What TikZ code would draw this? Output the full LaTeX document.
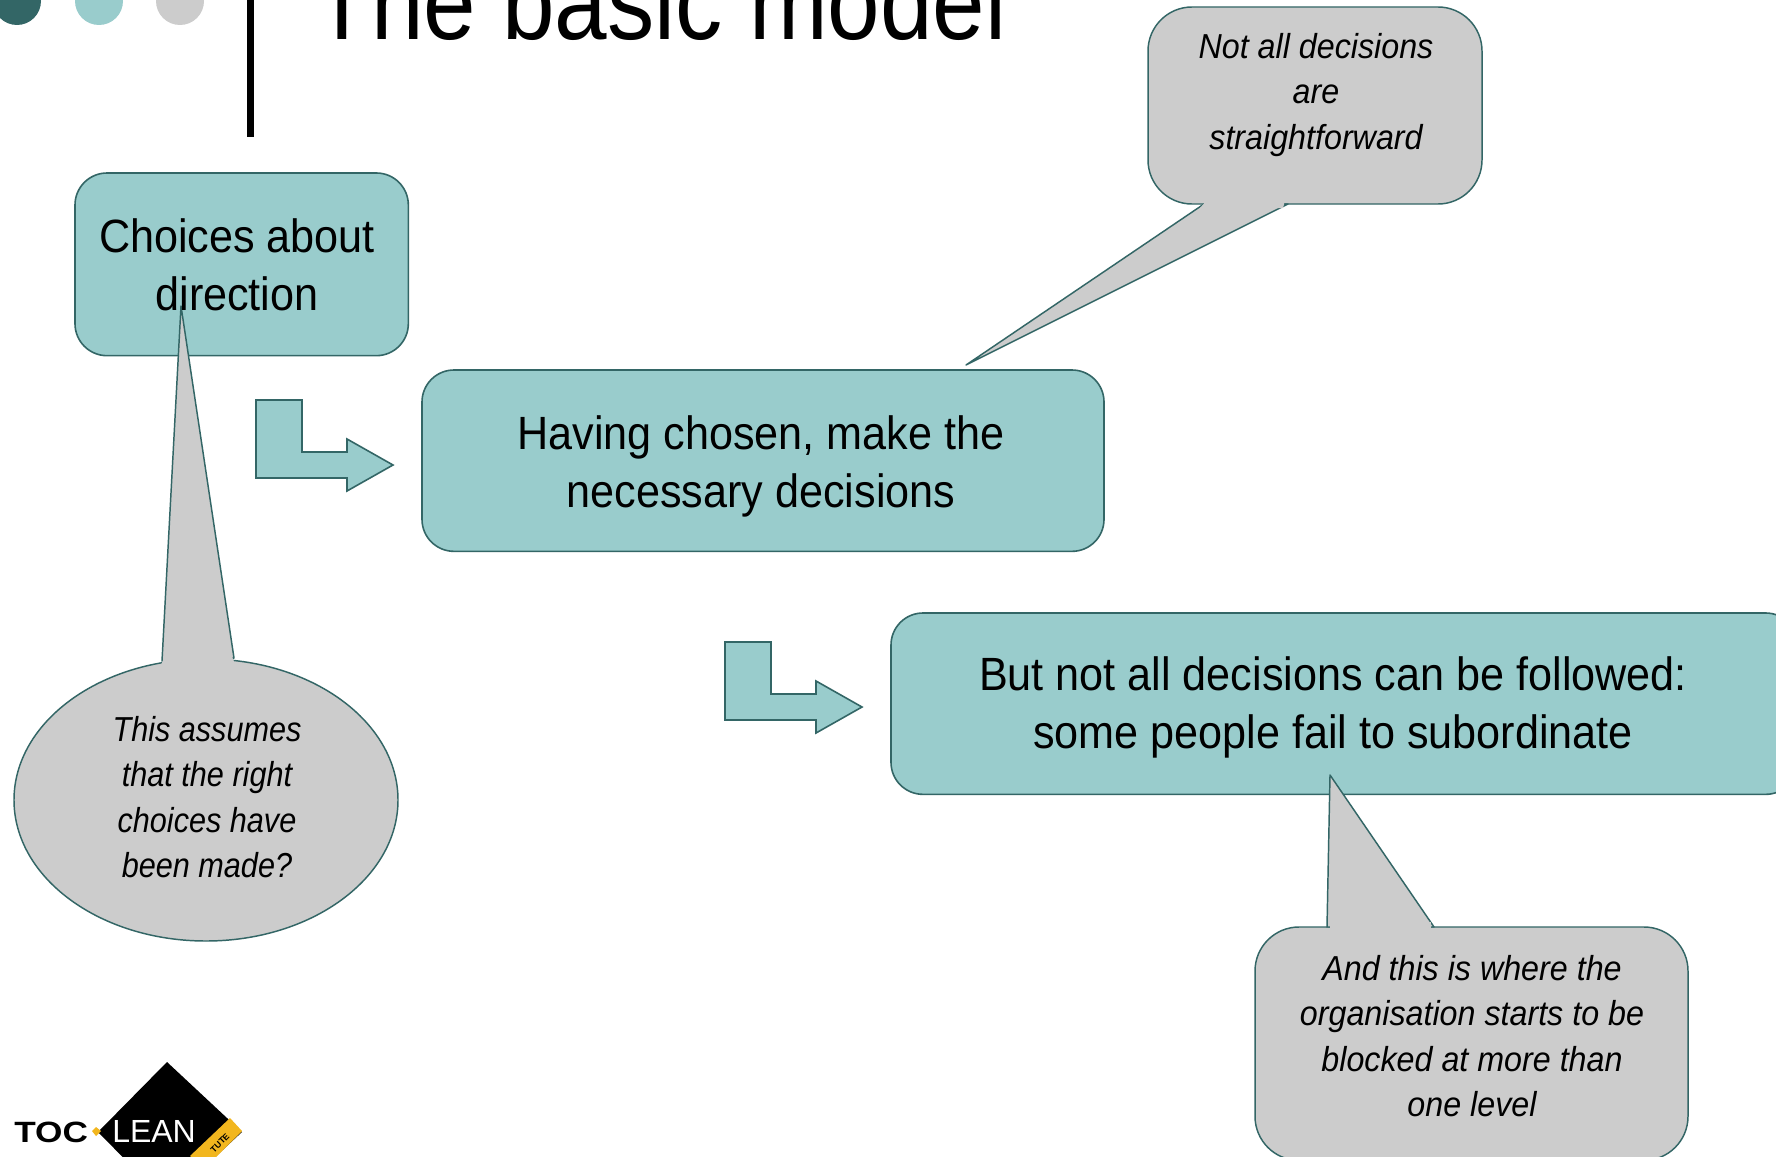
\documentclass[tikz,border=0pt]{standalone}
\usepackage{fontspec}
\setmainfont{Liberation Sans}
\usetikzlibrary{shapes.geometric}
\definecolor{tealfill}{HTML}{99CCCC}
\definecolor{tealline}{HTML}{336666}
\definecolor{greyfill}{HTML}{CCCCCC}
\definecolor{logoyellow}{HTML}{F2B61E}
\tikzset{
  x=0.75pt,y=-0.75pt,
  boxshape/.style={draw=tealline,fill=tealfill,line width=1.2pt,rounded corners=24pt,inner sep=0pt,outer sep=0pt,anchor=north west},
  calloutbody/.style={draw=tealline,fill=greyfill,line width=1.1pt,rounded corners=33pt,inner sep=0pt,outer sep=0pt,anchor=north west},
  callout/.style={draw=tealline,fill=greyfill,line width=1.1pt,line join=round},
  bent/.style={draw=tealline,fill=tealfill,line width=1.2pt},
  boxtext/.style={align=center,inner sep=0pt,font=\fontsize{35}{43.5}\selectfont,xscale=.925,transform shape},
  notetext/.style={align=center,inner sep=0pt,font=\fontsize{26}{34}\selectfont\itshape,xscale=.93,transform shape},
}
\begin{document}
\begin{tikzpicture}
\useasboundingbox (0,0) rectangle (1776,1156);
\clip (0,0) rectangle (1776,1156);
\fill[white] (0,0) rectangle (1776,1156);
% decoration
\fill[tealline] (17,1) circle[radius=18pt];
\fill[tealfill] (99,1) circle[radius=18pt];
\fill[greyfill] (180,1) circle[radius=18pt];
\fill[black] (246.5,0) rectangle (254,137);
\node[anchor=base,inner sep=0pt,font=\fontsize{80}{80}\selectfont,xscale=.885,transform shape] (title) at (660,40) {The basic model};
% callout bodies
\node[calloutbody,minimum width=250.5pt,minimum height=147.75pt] (c1) at (1148,7) {};
\node[callout,ellipse,inner sep=0pt,outer sep=0pt,minimum width=288pt,minimum height=211.5pt] (c2) at (206,800) {};
% main boxes
\node[boxshape,minimum width=250pt,minimum height=137pt] (b1) at (75,173) {};
\node[boxshape,minimum width=511.5pt,minimum height=136pt] (b2) at (422,370) {};
\node[boxshape,minimum width=680pt,minimum height=136pt] (b3) at (891,613) {};
\node[calloutbody,minimum width=324.75pt,minimum height=175pt] (c3) at (1255,927) {};
% tails, drawn over the boxes, with the join to the body opened
\coordinate (tip1) at (966,365);
\coordinate (tip2) at (181,306);
\coordinate (tip3) at (1330,775);
\draw[callout] (tip1) -- (1288,204) -- (1204,204) -- cycle;
\fill[greyfill] (1207,200) -- (1285,200) -- (1283,208) -- (1200,208) -- cycle;
\draw[callout] (tip2) -- (234,658) -- (162,661) -- cycle;
\fill[greyfill] (165,656) -- (231,654) -- (235,664) -- (160,667) -- cycle;
\draw[callout] (tip3) -- (1434,927) -- (1327,927) -- cycle;
\fill[greyfill] (1329.5,922) -- (1431,922) -- (1431,931) -- (1329.5,931) -- cycle;
% bent arrows
\draw[bent] (256,400) -- (302,400) -- (302,452) -- (347,452) -- (347,439) -- (393,465) -- (347,491) -- (347,478) -- (256,478) -- cycle;
\draw[bent] (725,642) -- (771,642) -- (771,694) -- (816,694) -- (816,681) -- (862,707) -- (816,733) -- (816,720) -- (725,720) -- cycle;
% texts
\node[boxtext] (t1) at (237,265) {Choices about\\direction};
\node[boxtext] (t2) at (761,466) {Having chosen, make the\\necessary decisions};
\node[boxtext] (t3) at (1333,707) {But not all decisions can be followed:\\some people fail to subordinate};
\node[notetext] (n1) at (1316,95) {Not all decisions\\are\\straightforward};
\node[notetext,xscale=.95] (n2) at (207,797) {This assumes\\that the right\\choices have\\been made?};
\node[notetext] (n3) at (1472,1036) {And this is where the\\organisation starts to be\\blocked at more than\\one level};
% logo
\fill[black] (167,1062) -- (242,1132) -- (167,1202) -- (98,1132) -- cycle;
\fill[logoyellow] (230,1118) -- (242,1131) -- (205,1168) -- (190,1156) -- cycle;
\fill[logoyellow] (96,1127) -- (101,1131) -- (96,1136) -- (92,1131) -- cycle;
\node[anchor=base west,inner sep=0pt,font=\fontsize{22}{22}\selectfont\bfseries,xscale=1.2,transform shape] (toc) at (14,1142) {TOC};
\node[anchor=base west,inner sep=0pt,text=white,font=\fontsize{24}{24}\selectfont,transform shape] (lean) at (112,1142) {LEAN};
\node[inner sep=0pt,font=\fontsize{6.5}{6.5}\selectfont\bfseries,rotate=45,transform shape] (inst) at (220,1143) {TUTE};
\end{tikzpicture}
\end{document}
